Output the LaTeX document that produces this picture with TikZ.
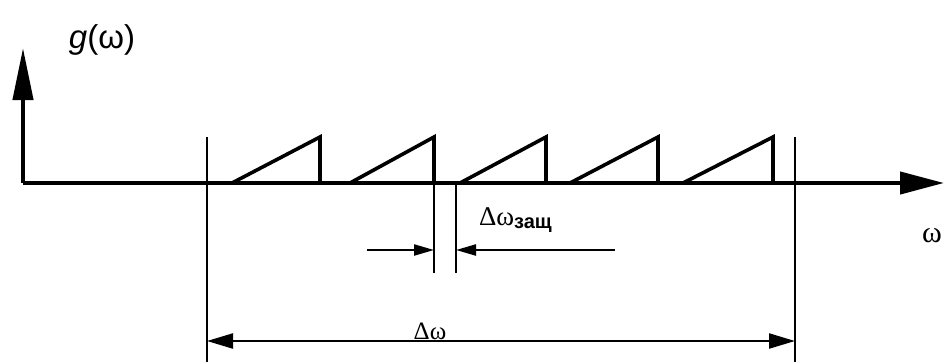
\documentclass[tikz,border=0pt]{standalone}
\usepackage{fontspec}
\setmainfont{Liberation Serif}
\newfontfamily\sansf{Liberation Sans}
\usetikzlibrary{arrows.meta}
\begin{document}
\begin{tikzpicture}[x=1pt,y=-1pt,
  axisline/.style={line width=4.2pt},
  tooth/.style={line width=3.6pt, line join=miter},
  guide/.style={line width=2.2pt},
  dimline/.style={line width=2.2pt},
  lbl/.style={inner sep=0pt, outer sep=0pt}]
\useasboundingbox (0,0) rectangle (944,362);
% axes
\coordinate (O) at (23,183);
\coordinate (Ytip) at (23,48);
\coordinate (Xtip) at (944,183);
\draw[axisline, -{Triangle[length=52pt,width=20pt]}] (O) -- (Ytip);
\draw[axisline, -{Triangle[length=44pt,width=22pt]}] (O) -- (Xtip);
\node[lbl, font=\sansf\fontsize{33}{33}\selectfont] (glab) at (102,40) {\textit{g}(ω)};
\node[lbl, font=\fontsize{30}{30}\selectfont] (wlab) at (932,236) {ω};
% band edges
\coordinate (L1) at (207,137); \coordinate (L2) at (207,362);
\coordinate (R1) at (795,137); \coordinate (R2) at (795,362);
\draw[guide] (L1) -- (L2);
\draw[guide] (R1) -- (R2);
% teeth
\foreach \s/\p [count=\i] in {232/320, 350/434, 460/546, 570/658, 683/773}{
  \coordinate (s\i) at (\s,183);
  \coordinate (p\i) at (\p,137);
  \coordinate (b\i) at (\p,183);
  \draw[tooth] (s\i) -- (p\i) -- (b\i);
}
% guard interval lines
\coordinate (g1t) at (434,183); \coordinate (g1b) at (434,273);
\coordinate (g2t) at (456,183); \coordinate (g2b) at (456,273);
\draw[guide] (g1t) -- (g1b);
\draw[guide] (g2t) -- (g2b);
\coordinate (ga1) at (367,250); \coordinate (ga2) at (434,250);
\coordinate (gb1) at (615,250); \coordinate (gb2) at (456,250);
\draw[dimline, -{Triangle[length=20pt,width=11pt]}] (ga1) -- (ga2);
\draw[dimline, -{Triangle[length=20pt,width=11pt]}] (gb1) -- (gb2);
\node[lbl, anchor=west, font=\fontsize{27}{27}\selectfont] (dwg) at (479,220) {Δω\raisebox{-0.3ex}{\sansf\fontsize{20}{20}\selectfont\bfseries защ}};
% total band
\coordinate (da) at (207,341); \coordinate (db) at (795,341);
\draw[dimline, {Triangle[length=26pt,width=15pt]}-{Triangle[length=26pt,width=15pt]}] (da) -- (db);
\node[lbl, anchor=south, font=\fontsize{25}{25}\selectfont] (dw) at (430,340) {Δω};
\end{tikzpicture}
\end{document}
